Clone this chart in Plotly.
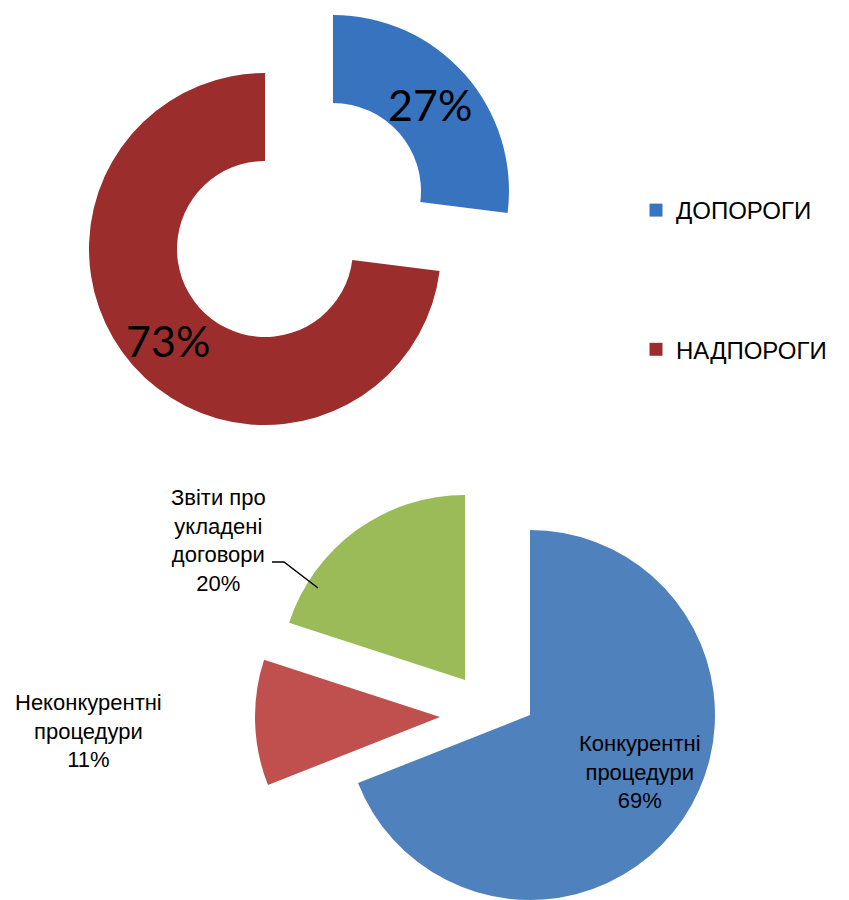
import plotly.graph_objects as go

# Top donut
top_labels = ["ДОПОРОГИ", "НАДПОРОГИ"]
top_values = [27, 73]
top_colors = ["#3873BF", "#9B2E2D"]

# Bottom pie
bot_labels = ["Конкурентні<br>процедури", "Неконкурентні<br>процедури", "Звіти про<br>укладені<br>договори"]
bot_values = [69, 11, 20]
bot_colors = ["#4F81BD", "#C0504D", "#9BBB59"]

W, H = 849, 1000   # page body has an 8px margin; bottom beyond viewport is cut
OFF = 8
CLEAR = "rgba(0,0,0,0)"

def px(sx):
    return (sx - OFF) / W

def py(sy):
    return 1 - (sy - OFF) / H

def dom(cx, cy, half):
    return dict(x=[px(cx - half), px(cx + half)], y=[py(cy + half), py(cy - half)])

def exploded(labels, values, colors, centres, radius, hole):
    # each slice is drawn around its own (exploded) centre
    for i, (cx, cy) in enumerate(centres):
        cols = [colors[j] if j == i else CLEAR for j in range(len(values))]
        hov = ["label+percent" if j == i else "skip" for j in range(len(values))]
        fig.add_trace(go.Pie(
            labels=labels, values=values, hole=hole, sort=False,
            direction="clockwise", rotation=0,
            marker=dict(colors=cols),
            textinfo="none",
            domain=dom(cx, cy, radius),
            showlegend=False, hoverinfo=hov,
        ))

fig = go.Figure()

exploded(top_labels, top_values, top_colors, [(333, 191), (265, 249)], 176, 0.5)
exploded(bot_labels, bot_values, bot_colors, [(530, 715), (440, 717), (465, 680)], 185, 0)

for lab, col in zip(top_labels, top_colors):
    fig.add_trace(go.Scatter(
        x=[None], y=[None], mode="markers", name=lab, legendgroup=lab,
        marker=dict(symbol="square", size=13, color=col),
    ))

annotations = []
top_text_pos = [(430, 105), (168, 340)]
for v, (sx, sy) in zip(top_values, top_text_pos):
    annotations.append(dict(
        x=px(sx), y=py(sy), xref="paper", yref="paper", showarrow=False,
        text=f"{v}%", font=dict(family="Lato", size=43, color="black"),
        xanchor="center", yanchor="middle",
    ))
bot_text_pos = [(640, 772), (88, 731), (218, 540)]
for lab, v, (sx, sy) in zip(bot_labels, bot_values, bot_text_pos):
    annotations.append(dict(
        x=px(sx), y=py(sy), xref="paper", yref="paper", showarrow=False,
        text=f"{lab}<br>{v}%", align="center",
        font=dict(family="Liberation Sans, Arial", size=22, color="black"),
        xanchor="center", yanchor="middle",
    ))

leader = "M {} {} L {} {} L {} {}".format(px(272), py(562), px(284), py(562), px(318), py(588))

fig.update_layout(
    width=W, height=H,
    margin=dict(l=0, r=0, t=0, b=0),
    paper_bgcolor="white", plot_bgcolor="white",
    xaxis=dict(visible=False), yaxis=dict(visible=False),
    annotations=annotations,
    shapes=[
        dict(type="path", path=leader, xref="paper", yref="paper",
             line=dict(color="black", width=1.5)),
    ],
    legend=dict(
        x=px(636), y=py(188), xanchor="left", yanchor="top",
        font=dict(family="Liberation Sans, Arial", size=24, color="black"),
        tracegroupgap=105, itemwidth=30, bgcolor="rgba(0,0,0,0)",
    ),
)

fig.write_html("out.html")
